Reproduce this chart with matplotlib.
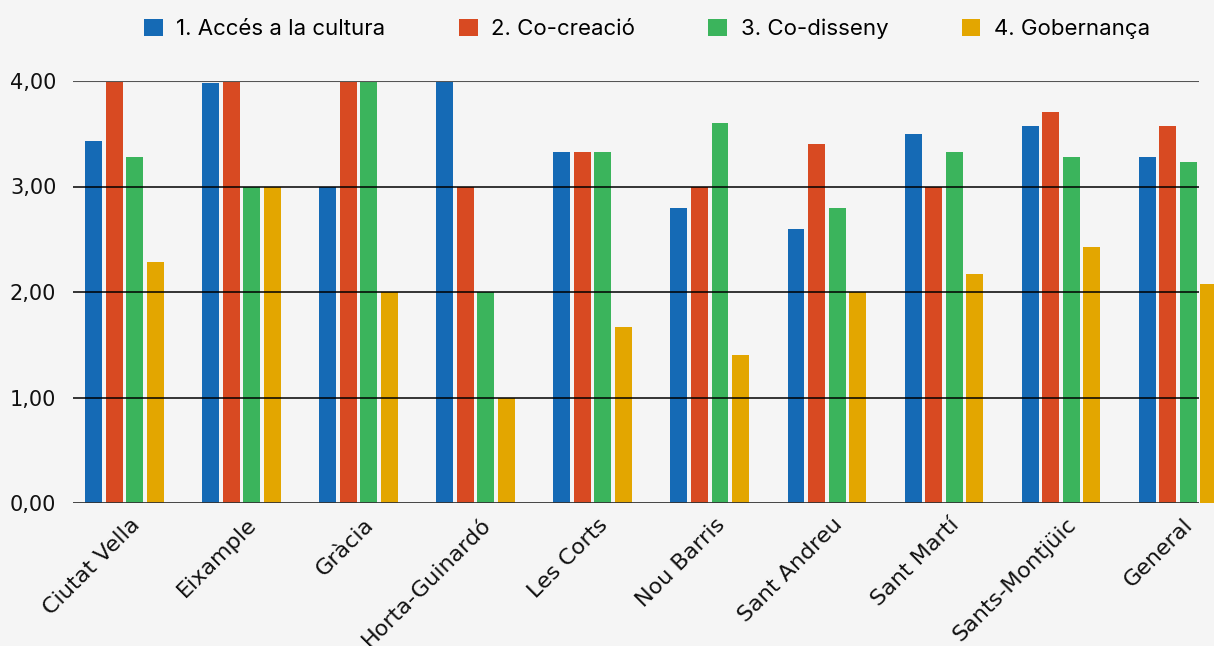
import numpy as np
import matplotlib.pyplot as plt
import matplotlib.transforms as mtransforms
from matplotlib.patches import Patch
from matplotlib.ticker import FuncFormatter

districtes = ['Ciutat Vella', 'Eixample', 'Gràcia', 'Horta-Guinardó', 'Les Corts',
              'Nou Barris', 'Sant Andreu', 'Sant Martí', 'Sants-Montjüic', 'General']
series = ['1. Accés a la cultura', '2. Co-creació', '3. Co-disseny', '4. Gobernança']

acces = [3.43, 3.98, 3.00, 4.00, 3.33, 2.80, 2.60, 3.50, 3.57, 3.28]
cocreacio = [4.00, 4.00, 4.00, 3.00, 3.33, 3.00, 3.40, 3.00, 3.71, 3.57]
codisseny = [3.28, 3.00, 4.00, 2.00, 3.33, 3.60, 2.80, 3.33, 3.28, 3.23]
gobernanca = [2.28, 3.00, 2.00, 1.00, 1.67, 1.40, 2.00, 2.17, 2.43, 2.08]

colors = ['#156ab5', '#d84a22', '#3bb45c', '#e3a600']
bg = '#f5f5f5'

plt.rcParams['font.family'] = 'DejaVu Sans'

fig = plt.figure(figsize=(12.14, 6.46), dpi=100, facecolor=bg)
ax = fig.add_axes([73 / 1214, 1 - 503 / 646, (1199 - 73) / 1214, (503 - 81) / 646])
ax.set_facecolor(bg)

x = np.arange(len(districtes))
w = 0.145
offs = [-0.263, -0.0876, 0.0876, 0.263]
for vals, off, c in zip([acces, cocreacio, codisseny, gobernanca], offs, colors):
    ax.bar(x + off, vals, width=w, color=c, zorder=1, clip_on=False)

ax.set_xlim(-0.44, 9.18)
ax.set_ylim(0, 4)
ax.set_yticks([0, 1, 2, 3, 4])
ax.yaxis.set_major_formatter(FuncFormatter(lambda v, p: f'{v:.2f}'.replace('.', ',')))
for yv in [1, 2, 3]:
    ax.axhline(yv, color='black', lw=1.1, zorder=3)
ax.axhline(4, color='#555555', lw=1.5, zorder=3)
ax.axhline(0, color='#333333', lw=2, zorder=3)

for s in ax.spines.values():
    s.set_visible(False)
ax.tick_params(axis='both', length=0)
ax.tick_params(axis='y', pad=12, labelsize=15, labelcolor='#111111')
ax.set_xticks(x)
ax.set_xticklabels(districtes, rotation=45, ha='right', rotation_mode='anchor',
                   fontsize=16, color='#111111')
ax.tick_params(axis='x', pad=12)
# petit desplaçament cap amunt-dreta per quadrar amb l'original
shift = mtransforms.ScaledTranslation(0.05, 0.05, fig.dpi_scale_trans)
for lab in ax.get_xticklabels():
    lab.set_transform(lab.get_transform() + shift)

handles = [Patch(facecolor=c, edgecolor='none') for c in colors]
fig.legend(handles, series, loc='center', bbox_to_anchor=(647 / 1214, 1 - 29 / 646),
           ncol=4, frameon=False, handlelength=0.85, handleheight=0.85,
           handletextpad=0.6, columnspacing=3.3,
           prop={'family': 'Inter', 'size': 16})

fig.savefig('out.png', dpi=100, facecolor=bg)
